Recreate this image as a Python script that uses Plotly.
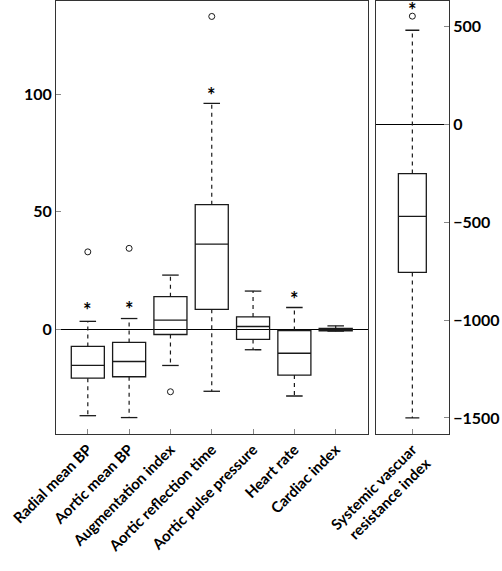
import plotly.graph_objects as go

# ---- data ----
categories = ["Radial mean BP", "Aortic mean BP", "Augmentation index",
              "Aortic reflection time", "Aortic pulse pressure", "Heart rate",
              "Cardiac index"]
lower_whisker = [-36.9, -37.7, -15.5, -26.5, -8.8, -28.5, -0.9]
q1 = [-20.9, -20.3, -2.3, 8.4, -4.4, -19.6, -0.8]
median = [-15.5, -13.8, 3.8, 36.2, 1.1, -10.3, -0.2]
q3 = [-7.4, -5.7, 13.8, 53.0, 5.2, -0.6, 0.3]
upper_whisker = [3.3, 4.5, 23.0, 96.2, 16.2, 9.2, 1.4]
outlier_cat = [0, 1, 2, 3]
outlier_val = [32.9, 34.4, -26.7, 133.2]
star_cat = [0, 1, 3, 5]
star_val = [9.4, 9.8, 101.0, 14.2]
left_ticks = [0, 50, 100]

svri_label = "Systemic vascuar<br>resistance index"
svri_lw = [-1500]
svri_q1 = [-757]
svri_med = [-471]
svri_q3 = [-252]
svri_uw = [480]
svri_outlier = [552]
svri_star = [598]
right_ticks = [-1500, -1000, -500, 0, 500]
right_ticktext = ["\u22121500", "\u22121000", "\u2212500", "0", "500"]

LINE = "#1a1a1a"
FONT = "Lato"

fig = go.Figure()


def add_panel(xs, lw, a, m, b, uw, xa, ya):
    fig.add_trace(go.Box(
        x=xs, q1=a, median=m, q3=b, lowerfence=a, upperfence=b,
        width=0.8, fillcolor="rgba(0,0,0,0)",
        line=dict(color=LINE, width=1.3), boxpoints=False,
        showlegend=False, xaxis=xa, yaxis=ya, whiskerwidth=0,
        hoverinfo="skip"))
    wx, wy, cx, cy = [], [], [], []
    for i, x in enumerate(xs):
        wx += [x, x, None, x, x, None]
        wy += [b[i], uw[i], None, a[i], lw[i], None]
        cx += [x - 0.2, x + 0.2, None, x - 0.2, x + 0.2, None]
        cy += [uw[i], uw[i], None, lw[i], lw[i], None]
    fig.add_trace(go.Scatter(x=wx, y=wy, mode="lines",
                             line=dict(color=LINE, width=1.2, dash="4px,4px"),
                             showlegend=False, xaxis=xa, yaxis=ya, hoverinfo="skip"))
    fig.add_trace(go.Scatter(x=cx, y=cy, mode="lines",
                             line=dict(color=LINE, width=1.3),
                             showlegend=False, xaxis=xa, yaxis=ya, hoverinfo="skip"))


xs_left = list(range(len(categories)))
add_panel(xs_left, lower_whisker, q1, median, q3, upper_whisker, "x", "y")
add_panel([0], svri_lw, svri_q1, svri_med, svri_q3, svri_uw, "x2", "y2")

# outliers
fig.add_trace(go.Scatter(x=outlier_cat, y=outlier_val, mode="markers",
                         marker=dict(symbol="circle-open", size=6, color=LINE, line=dict(width=1)),
                         showlegend=False, xaxis="x", yaxis="y", hoverinfo="skip"))
fig.add_trace(go.Scatter(x=[0] * len(svri_outlier), y=svri_outlier, mode="markers",
                         marker=dict(symbol="circle-open", size=6, color=LINE, line=dict(width=1)),
                         showlegend=False, xaxis="x2", yaxis="y2", hoverinfo="skip"))

# significance stars (glyph centred on the value)
starfont = dict(family=FONT, size=20, color="#000000", weight="bold")
for c, v in zip(star_cat, star_val):
    fig.add_annotation(x=c, y=v, xref="x", yref="y", text="*", showarrow=False,
                       font=starfont, yshift=-3)
for v in svri_star:
    fig.add_annotation(x=0, y=v, xref="x2", yref="y2", text="*", showarrow=False,
                       font=starfont, yshift=-3)

W, H = 502, 571
tickfont = dict(family=FONT, size=16, color="black", weight="bold")
catfont = dict(family=FONT, size=15, color="black", weight="bold")
axline = dict(showline=True, linecolor="#333", linewidth=1, mirror=True,
              showgrid=False, ticks="inside", ticklen=5, tickcolor="#888", tickwidth=1,
              automargin=False)

fig.update_layout(
    width=W, height=H, margin=dict(l=0, r=0, t=0, b=0),
    paper_bgcolor="white", plot_bgcolor="white",
    xaxis=dict(domain=[56 / W, 367.5 / W], range=[-0.77, 6.77],
               tickvals=xs_left, ticktext=categories, tickangle=-45,
               tickfont=catfont, zeroline=False, anchor="y", **axline),
    yaxis=dict(domain=[1 - 434 / H, 1 - 0.5 / H], range=[-44.7, 140],
               tickvals=left_ticks, tickfont=tickfont, zeroline=True,
               zerolinecolor="black", zerolinewidth=1, anchor="x", **axline),
    xaxis2=dict(domain=[375.7 / W, 449 / W], range=[-1.05, 1.05],
                tickvals=[0], ticktext=[svri_label], tickangle=-45,
                tickfont=catfont, zeroline=False, anchor="y2", **axline),
    yaxis2=dict(domain=[1 - 434 / H, 1 - 0.5 / H], range=[-1582, 632],
                tickvals=right_ticks, ticktext=right_ticktext,
                tickfont=tickfont, side="right", zeroline=True,
                zerolinecolor="black", zerolinewidth=1, anchor="x2", **axline),
)

fig.write_html("out.html", config={"displayModeBar": False},
               post_script="document.body.style.margin='0';document.body.style.overflow='hidden';")
